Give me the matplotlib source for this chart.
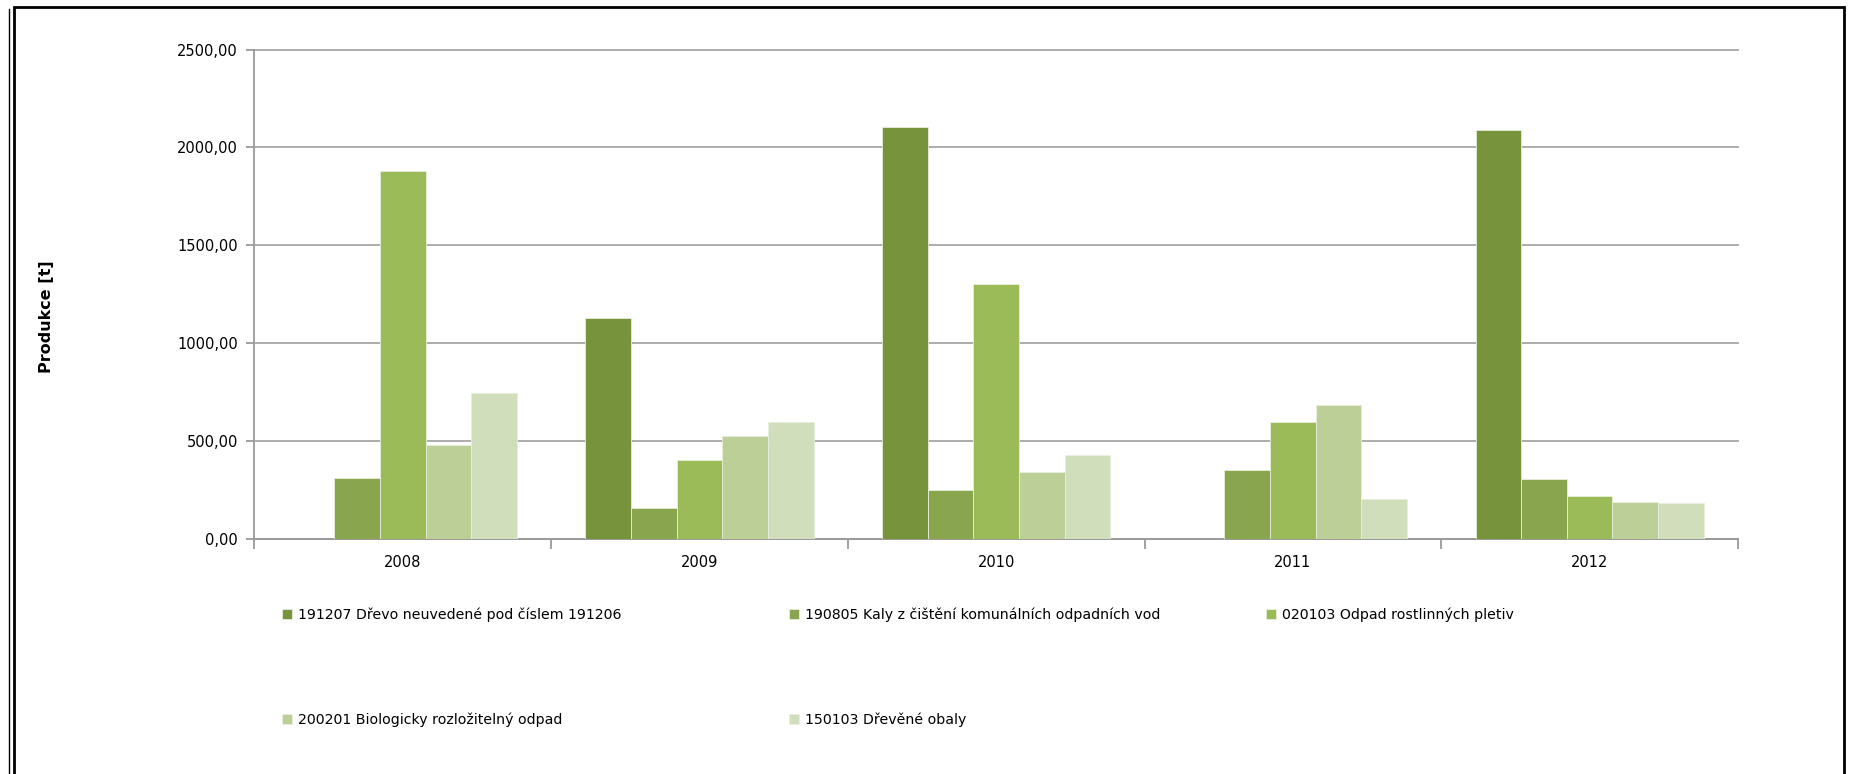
import numpy as np
import matplotlib
matplotlib.use("Agg")
import matplotlib.pyplot as plt
from matplotlib.patches import Rectangle
from matplotlib.ticker import FuncFormatter, FixedLocator

years = ["2008", "2009", "2010", "2011", "2012"]
labels = ["191207 Dřevo neuvedené pod číslem 191206",
          "190805 Kaly z čištění komunálních odpadních vod",
          "020103 Odpad rostlinných pletiv",
          "200201 Biologicky rozložitelný odpad",
          "150103 Dřevěné obaly"]
drevo_191207 = [0, 1127, 2106, 0, 2090]
kaly_190805 = [308, 156, 248, 352, 305]
pletiva_020103 = [1880, 402, 1301, 595, 219]
bio_200201 = [479, 525, 342, 683, 188]
obaly_150103 = [746, 595, 428, 203, 181]
series = [drevo_191207, kaly_190805, pletiva_020103, bio_200201, obaly_150103]
colors = ["#77933C", "#89A54E", "#9BBB59", "#BBCF96", "#D1DEBC"]

plt.rcParams['font.family'] = ['DejaVu Sans']
fig = plt.figure(figsize=(18.56, 7.74), dpi=100)
ax = fig.add_axes([254.5/1856, 1-538.6/774, (1738-254.5)/1856, (538.6-49.5)/774])

x = np.arange(len(years))
w = 1/6.5
bars = []
for i, vals in enumerate(series):
    b = ax.bar(x + (i-2)*w, vals, w, color=colors[i], edgecolor="#E8EEDC",
               linewidth=0.6, label=labels[i], zorder=3)
    bars.append(b)

ax.set_xlim(-0.5, 4.5)
ax.set_ylim(0, 2500)
ax.yaxis.set_major_locator(FixedLocator([0, 500, 1000, 1500, 2000, 2500]))
ax.yaxis.set_major_formatter(FuncFormatter(lambda v, p: ("%.2f" % v).replace(".", ",")))
ax.grid(axis="y", color="#A6A6A6", linewidth=1.3, zorder=0, clip_on=False)
ax.set_axisbelow(True)
for s in ["top", "right"]:
    ax.spines[s].set_visible(False)
for s in ["left", "bottom"]:
    ax.spines[s].set_color("#9A9A9A")
    ax.spines[s].set_linewidth(1.3)
ax.set_xticks(x)
ax.set_xticklabels(years)
ax.set_xticks(np.arange(-0.5, 5.0, 1.0), minor=True)
ax.tick_params(axis="x", which="major", length=0, pad=12, labelsize=10.5)
ax.tick_params(axis="x", which="minor", length=7, color="#9A9A9A", width=1.3)
ax.tick_params(axis="y", length=6, color="#9A9A9A", width=1.3, pad=6, labelsize=10.5)

fig.text(47/1856, 1-317/774, "Produkce [t]", rotation=90, fontweight="bold",
         fontsize=11.5, ha="center", va="center")

# legend in three columns like the original
col_x = [282, 789, 1266]
for c in range(3):
    hs = [bars[k] for k in range(c, 5, 3)]
    ls = [labels[k] for k in range(c, 5, 3)]
    leg = fig.legend(hs, ls, loc="upper left", bbox_to_anchor=(col_x[c]/1856, 1-607/774),
                     frameon=False, fontsize=10.2, handlelength=0.7, handleheight=0.7,
                     handletextpad=0.4, labelspacing=6.4, borderaxespad=0, borderpad=0)

# outer frame
fig.add_artist(Rectangle((14/1856, -0.05), (1844-14)/1856, 1.05-7/774,
                         transform=fig.transFigure, fill=False, edgecolor="black", linewidth=2))
fig.add_artist(plt.Line2D([9/1856, 9/1856], [-0.05, 1-9/774], transform=fig.transFigure,
                          color="black", linewidth=1))

fig.savefig("out.png", dpi=100)
